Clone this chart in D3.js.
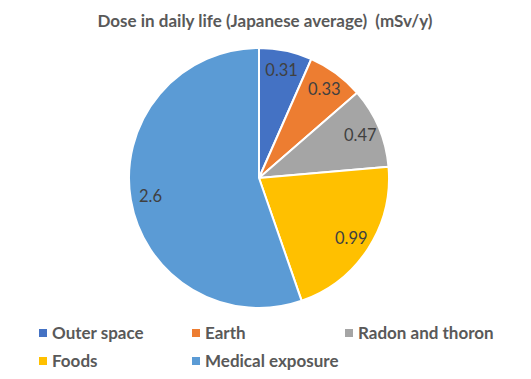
<!DOCTYPE html>
<html><head><meta charset="utf-8">
<script src="https://cdn.jsdelivr.net/npm/d3@7"></script>
<style>body{margin:0;background:#fff;} text{white-space:pre;}</style>
</head><body>
<svg id="c" width="531" height="379"></svg>
<script>
const categories = ["Outer space", "Earth", "Radon and thoron", "Foods", "Medical exposure"];
const values = [0.31, 0.33, 0.47, 0.99, 2.6];
const labels = ["0.31", "0.33", "0.47", "0.99", "2.6"];
const colors = ["#4472C4", "#ED7D31", "#A5A5A5", "#FFC000", "#5B9BD5"];
const title = "Dose in daily life (Japanese average)  (mSv/y)";

const svg = d3.select("#c");
const font = "Lato, 'Open Sans', sans-serif";
svg.append("rect").attr("width",531).attr("height",379).attr("fill","#fff");

svg.append("text").attr("x",265).attr("y",27).attr("text-anchor","middle")
  .attr("font-family",font).attr("font-weight","bold").attr("font-size",17)
  .attr("fill","#595959").text(title);

const cx = 259, cy = 178, r = 130;
const g = svg.append("g").attr("transform",`translate(${cx},${cy})`);
const pie = d3.pie().sort(null).value(d=>d);
const arcs = pie(values);
const arc = d3.arc().innerRadius(0).outerRadius(r);
const labelArc = d3.arc().innerRadius(110).outerRadius(110);
g.selectAll("path").data(arcs).join("path")
  .attr("d",arc).attr("fill",(d,i)=>colors[i])
  .attr("stroke","#fff").attr("stroke-width",2).attr("stroke-linejoin","round");
g.selectAll("text").data(arcs).join("text")
  .attr("transform",d=>{const c=labelArc.centroid(d);return `translate(${c[0]},${c[1]})`;})
  .attr("text-anchor","middle").attr("dy","0.35em")
  .attr("font-family",font).attr("font-size",16.5).attr("fill","#404040")
  .text((d,i)=>labels[i]);

const legX = [39, 192, 345], legY = [333, 361];
const lg = svg.append("g");
categories.forEach((c,i)=>{
  const x = legX[i%3], y = legY[Math.floor(i/3)];
  lg.append("rect").attr("x",x).attr("y",y-4).attr("width",8).attr("height",8).attr("fill",colors[i]);
  lg.append("text").attr("x",x+13).attr("y",y).attr("dy","0.35em")
    .attr("font-family",font).attr("font-weight","bold").attr("font-size",17)
    .attr("fill","#595959").text(c);
});
</script>
</body></html>
